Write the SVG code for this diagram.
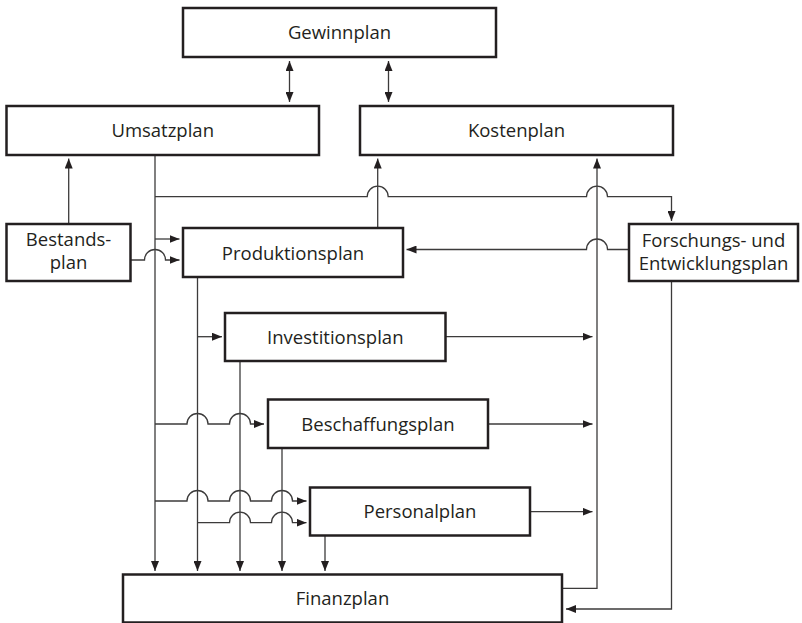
<svg xmlns="http://www.w3.org/2000/svg" width="802" height="623" viewBox="0 0 802 623">
<style>
.box{fill:#fff;stroke:#231f20;stroke-width:2.5}
.lbl{font-family:"Open Sans","Noto Sans","Liberation Sans",sans-serif;font-size:18.5px;fill:#231f20;text-anchor:middle}
.c{fill:none;stroke:#3c3b3b;stroke-width:1.3}
.a{marker-end:url(#ah)}
.b{marker-start:url(#ah);marker-end:url(#ah)}
</style>
<defs>
<marker id="ah" markerUnits="userSpaceOnUse" markerWidth="10" markerHeight="8" viewBox="0 0 10 8" refX="10" refY="4" orient="auto-start-reverse">
<path d="M0,0 L10,4 L0,8 z" fill="#231f20"/>
</marker>
</defs>
<g id="connectors">
<path class="c b" d="M289.5,61 V102"/>
<path class="c b" d="M388.5,61 V102"/>
<path class="c a" d="M68.7,224 V158.5"/>
<path class="c a" d="M155,155 V571"/>
<path class="c a" d="M155,196.7 H367.2 A10.5,10.5 0 0 1 388.2,196.7 H586.5 A10.5,10.5 0 0 1 607.5,196.7 H671.5 V221"/>
<path class="c a" d="M155,239 H179.5"/>
<path class="c a" d="M130.7,260 H144.5 A10.5,10.5 0 0 1 165.5,260 H179.5"/>
<path class="c a" d="M377.7,228 V158.5"/>
<path class="c a" d="M561.7,588.3 H597 V158.5"/>
<path class="c a" d="M629,249.5 H607.5 A10.5,10.5 0 0 0 586.5,249.5 H406.5"/>
<path class="c a" d="M671.5,281 V609 H566"/>
<path class="c a" d="M197.5,277 V571"/>
<path class="c a" d="M197.5,336.7 H222"/>
<path class="c a" d="M240,361 V571"/>
<path class="c a" d="M445.7,336.7 H592.5"/>
<path class="c a" d="M155,424 H187 A10.5,10.5 0 0 1 208,424 H229.5 A10.5,10.5 0 0 1 250.5,424 H264"/>
<path class="c a" d="M487.7,424 H592.5"/>
<path class="c a" d="M282,448 V571"/>
<path class="c a" d="M155,501 H187 A10.5,10.5 0 0 1 208,501 H229.5 A10.5,10.5 0 0 1 250.5,501 H271.5 A10.5,10.5 0 0 1 292.5,501 H306.5"/>
<path class="c a" d="M197.5,522.7 H229.5 A10.5,10.5 0 0 1 250.5,522.7 H271.5 A10.5,10.5 0 0 1 292.5,522.7 H306.5"/>
<path class="c a" d="M530,511.7 H592.5"/>
<path class="c a" d="M325,535.7 V571"/>
</g>
<g id="gewinnplan"><rect class="box" x="183" y="8" width="313" height="49"/><text class="lbl" x="339.5" y="39">Gewinnplan</text></g>
<g id="umsatzplan"><rect class="box" x="6.5" y="106" width="312.5" height="49"/><text class="lbl" x="162.7" y="137">Umsatzplan</text></g>
<g id="kostenplan"><rect class="box" x="360" y="106" width="313" height="49"/><text class="lbl" x="516.5" y="137">Kostenplan</text></g>
<g id="bestandsplan"><rect class="box" x="6.5" y="224" width="124" height="57"/><text class="lbl" x="68.6" y="245.8">Bestands-</text><text class="lbl" x="68.6" y="268.8">plan</text></g>
<g id="produktionsplan"><rect class="box" x="183" y="228" width="220" height="49"/><text class="lbl" x="293" y="259.5">Produktionsplan</text></g>
<g id="forschungsplan"><rect class="box" x="629" y="224" width="169" height="57"/><text class="lbl" x="713.5" y="247">Forschungs- und</text><text class="lbl" x="713.5" y="270">Entwicklungsplan</text></g>
<g id="investitionsplan"><rect class="box" x="225" y="313" width="220.5" height="48"/><text class="lbl" x="335.3" y="343.5">Investitionsplan</text></g>
<g id="beschaffungsplan"><rect class="box" x="268" y="399.5" width="220" height="48.5"/><text class="lbl" x="378" y="430.5">Beschaffungsplan</text></g>
<g id="personalplan"><rect class="box" x="310" y="487.5" width="220" height="48"/><text class="lbl" x="420" y="518">Personalplan</text></g>
<g id="finanzplan"><rect class="box" x="123" y="574.5" width="439" height="48"/><text class="lbl" x="342.5" y="605">Finanzplan</text></g>
</svg>
